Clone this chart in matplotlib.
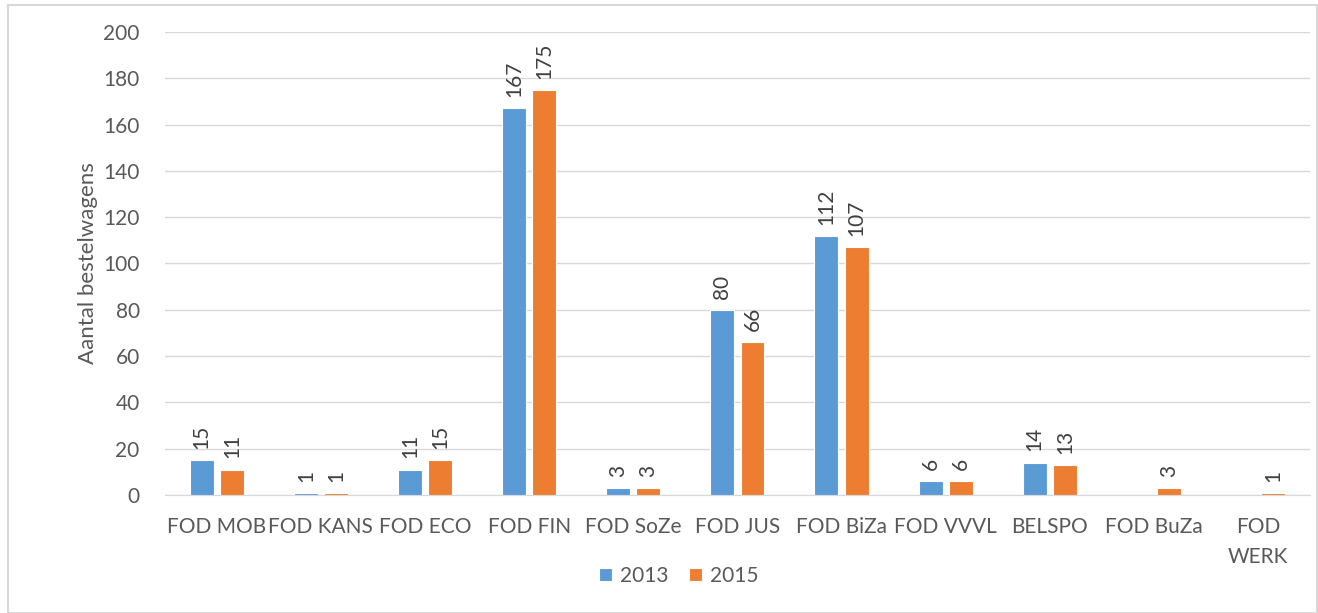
import matplotlib.pyplot as plt
import numpy as np

categories = ["FOD MOB", "FOD KANS", "FOD ECO", "FOD FIN", "FOD SoZe", "FOD JUS",
              "FOD BiZa", "FOD VVVL", "BELSPO", "FOD BuZa", "FOD\nWERK"]
vals_2013 = [15, 1, 11, 167, 3, 80, 112, 6, 14, None, None]
vals_2015 = [11, 1, 15, 175, 3, 66, 107, 6, 13, 3, 1]
yticks = list(range(0, 201, 20))

BLUE = "#5B9BD5"
ORANGE = "#ED7D31"
TXT = "#595959"

plt.rcParams['font.family'] = ['Lato', 'DejaVu Sans']

fig = plt.figure(figsize=(13.18, 6.13), dpi=100)
ax = fig.add_axes([0.125, 0.1925, 0.869, 0.7555])

x = np.arange(len(categories))
w = 0.23
off = 0.145

for vals, dx, col, lab in [(vals_2013, -off, BLUE, "2013"), (vals_2015, off, ORANGE, "2015")]:
    xs = [xi + dx for xi, v in zip(x, vals) if v is not None]
    hs = [v for v in vals if v is not None]
    ax.bar(xs, hs, width=w, color=col, edgecolor="white", linewidth=0.8, label=lab, zorder=3)
    for xi, v in zip(xs, hs):
        ax.annotate(str(v), (xi, v), xytext=(0, 8), textcoords="offset points",
                    rotation=90, ha="center", va="bottom", fontsize=15, color="#404040")

ax.set_xlim(-0.5, len(categories) - 0.5)
ax.set_ylim(0, 200)
ax.set_yticks(yticks)
ax.set_xticks(x)
ax.set_xticklabels(categories, linespacing=1.6)
ax.grid(axis="y", color="#D9D9D9", linewidth=1, zorder=0)
for s in ["top", "right", "left"]:
    ax.spines[s].set_visible(False)
ax.spines["bottom"].set_color("#D9D9D9")
ax.tick_params(axis="both", length=0, labelsize=15, labelcolor=TXT)
ax.tick_params(axis="x", pad=16)
ax.tick_params(axis="y", pad=18)
ax.set_ylabel("Aantal bestelwagens", fontsize=16, color=TXT, labelpad=4)

fig.legend(loc="center", bbox_to_anchor=(0.515, 0.06), ncol=2, frameon=False,
           fontsize=15, labelcolor=TXT, handlelength=0.6, handleheight=0.6,
           columnspacing=1.0, handletextpad=0.4)

fig.patches.append(plt.Rectangle((0.006, 0.0), 0.993, 0.992, transform=fig.transFigure,
                                 fill=False, edgecolor="#D9D9D9", linewidth=1.5))

fig.savefig("out.png", dpi=100)
